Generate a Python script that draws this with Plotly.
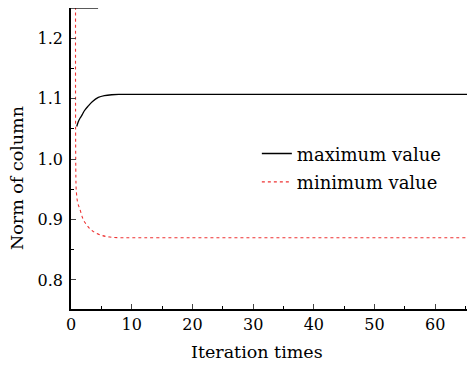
import plotly.graph_objects as go

# Data
iter_max = [0.94, 1.2, 1.5, 1.76, 2.2, 2.85, 3.5, 4.5, 5.5, 6.7, 8, 10, 15, 20, 30, 40, 50, 60, 67]
max_vals = [1.054, 1.062, 1.068, 1.072, 1.080, 1.088, 1.095, 1.102, 1.105, 1.1065, 1.107, 1.107,
            1.107, 1.107, 1.107, 1.107, 1.107, 1.107, 1.107]

iter_min = [0.8, 0.82, 0.9, 1.1, 1.5, 1.9, 2.3, 3.0, 3.7, 5, 6.4, 8, 10, 20, 30, 40, 50, 60, 67]
min_vals = [1.6, 0.96, 0.944, 0.928, 0.916, 0.903, 0.895, 0.886, 0.880, 0.874, 0.871, 0.870,
            0.870, 0.870, 0.870, 0.870, 0.870, 0.870, 0.870]

x_ticks = [0, 10, 20, 30, 40, 50, 60]
y_ticks = [0.8, 0.9, 1.0, 1.1, 1.2]
y_tick_labels = ["0.8", "0.9", "1.0", "1.1", "1.2"]

FONT = "DejaVu Serif"

fig = go.Figure()
fig.add_trace(go.Scatter(x=iter_max, y=max_vals, mode="lines", name="maximum value", legendgroup="max",
                         line=dict(color="black", width=1.3, shape="spline")))
fig.add_trace(go.Scatter(x=iter_min, y=min_vals, mode="lines", name="minimum value", legendgroup="min",
                         line=dict(color="#ee3333", width=1.1, dash="dot", shape="spline")))

fig.update_layout(
    width=475, height=367,
    margin=dict(l=63, r=8, t=0, b=66),
    paper_bgcolor="white", plot_bgcolor="white",
    font=dict(family=FONT, size=16, color="black"),
    showlegend=True,
    legend=dict(x=0.46, y=0.577, xanchor="left", yanchor="top",
                bgcolor="rgba(0,0,0,0)", font=dict(family=FONT, size=18),
                tracegroupgap=2),
    xaxis=dict(range=[0, 66.55], tickvals=x_ticks, ticks="inside", ticklen=5, tickwidth=1.3,
               showline=True, linecolor="black", linewidth=1.5, showgrid=False, zeroline=False,
               minor=dict(dtick=5, ticks="inside", ticklen=3, tickwidth=1.2, tickcolor="black"),
               tickfont=dict(size=16)),
    yaxis=dict(range=[0.752, 1.25], tickvals=y_ticks, ticktext=y_tick_labels, ticks="inside",
               ticklen=5, tickwidth=1.3, ticklabelstandoff=3,
               showline=True, linecolor="black", linewidth=1.5, showgrid=False, zeroline=False,
               minor=dict(dtick=0.05, tick0=0.75, ticks="inside", ticklen=3, tickwidth=1.2, tickcolor="black"),
               tickfont=dict(size=16)),
    shapes=[dict(type="line", xref="paper", yref="paper", x0=0, x1=0.067, y0=1, y1=1,
                 line=dict(color="black", width=1.3))],
    annotations=[
        dict(text="Iteration times", xref="paper", yref="paper", x=0.46, y=0, yshift=-43,
             xanchor="center", yanchor="middle", showarrow=False, font=dict(size=17.5)),
        dict(text="Norm of column", xref="paper", yref="paper", x=0, xshift=-54, y=0.435,
             xanchor="center", yanchor="middle", textangle=-90, showarrow=False, font=dict(size=17.5)),
    ],
)

fig.write_html("out.html")
